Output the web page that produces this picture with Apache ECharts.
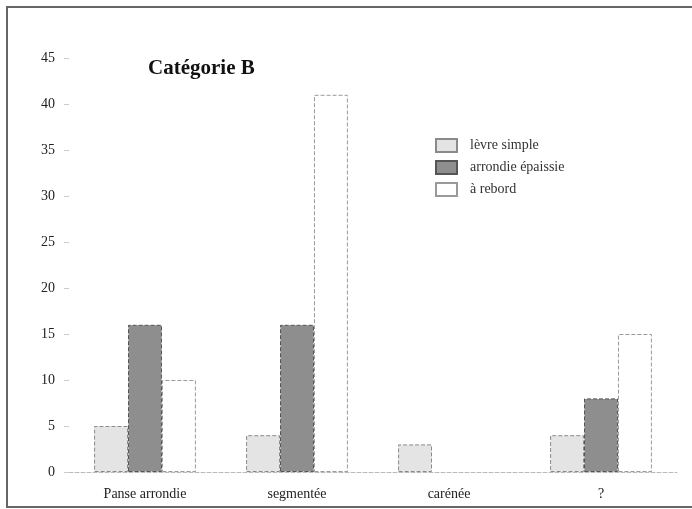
<!DOCTYPE html>
<html>
<head>
<meta charset="utf-8">
<script src="https://cdn.jsdelivr.net/npm/echarts@6/dist/echarts.min.js"></script>
<style>
html,body{margin:0;padding:0;background:#fff;}
#c{width:692px;height:509px;}
</style>
</head>
<body>
<div id="c"></div>
<script>
const categories = ['Panse arrondie', 'segmentée', 'carénée', '?'];
const seriesNames = ['lèvre simple', 'arrondie épaissie', 'à rebord'];
const levreSimple = [5, 4, 3, 4];
const arrondieEpaissie = [16, 16, 0, 8];
const aRebord = [10, 41, 0, 15];
const yTicks = [0, 5, 10, 15, 20, 25, 30, 35, 40, 45];

const serif = '"Liberation Serif", "DejaVu Serif", serif';
const chart = echarts.init(document.getElementById('c'));
const styles = [
  {color: '#e4e4e4', borderColor: '#8a8a8a'},
  {color: '#8e8e8e', borderColor: '#555'},
  {color: '#ffffff', borderColor: '#9a9a9a'}
];
const values = [levreSimple, arrondieEpaissie, aRebord];
chart.setOption({
  animation: false,
  backgroundColor: '#fff',
  title: {
    text: 'Catégorie B', left: 143, top: 53,
    textStyle: {fontFamily: serif, fontWeight: 'bold', fontSize: 21, color: '#111'}
  },
  legend: {
    orient: 'vertical', left: 435, top: 138, padding: 0,
    icon: 'rect',
    itemWidth: 21, itemHeight: 13, itemGap: 7,
    textStyle: {fontFamily: serif, fontSize: 14, color: '#333', padding: [0, 0, 0, 8]},
    data: seriesNames
  },
  grid: {left: 69, right: 15, top: 58, bottom: 37},
  xAxis: {
    type: 'category', data: categories,
    axisLine: {show: true, lineStyle: {color: '#bbb', type: 'dashed', width: 1}},
    axisTick: {show: false},
    axisLabel: {fontFamily: serif, fontSize: 14, color: '#222', margin: 15}
  },
  yAxis: {
    type: 'value', min: 0, max: 45, interval: 5,
    axisLine: {show: false},
    axisTick: {show: true, length: 5, lineStyle: {color: '#ccc'}},
    splitLine: {show: false},
    axisLabel: {fontFamily: serif, fontSize: 14, color: '#222', margin: 14,
      formatter: v => yTicks.includes(v) ? String(v) : ''}
  },
  series: seriesNames.map((n, i) => ({
    name: n, type: 'bar',
    data: values[i].map(v => (v === 0 ? null : v)),
    barGap: '0%', barCategoryGap: '33%',
    itemStyle: {color: styles[i].color, borderColor: styles[i].borderColor, borderWidth: 1, borderType: 'dashed'}
  })),
  graphic: [
    {type: 'line', shape: {x1: 6, y1: 7, x2: 692, y2: 7}, style: {stroke: '#666', lineWidth: 2}},
    {type: 'line', shape: {x1: 7, y1: 6, x2: 7, y2: 508}, style: {stroke: '#666', lineWidth: 2}},
    {type: 'line', shape: {x1: 6, y1: 507, x2: 692, y2: 507}, style: {stroke: '#666', lineWidth: 2}}
  ]
});
</script>
</body>
</html>
